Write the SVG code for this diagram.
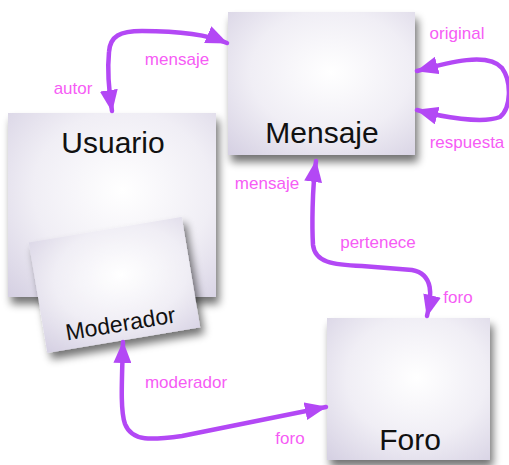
<svg xmlns="http://www.w3.org/2000/svg" width="509" height="465" viewBox="0 0 509 465">
<style>
.card{fill:url(#paper);filter:url(#shadow);}
.title{font-family:"Liberation Sans",Arial,sans-serif;font-size:30px;fill:#111;text-anchor:middle;}
.lbl{font-family:"Liberation Sans",Arial,sans-serif;font-size:17px;fill:#f65cf5;text-anchor:middle;}
.conn{fill:none;stroke:#b348f5;stroke-width:4.5;stroke-linecap:round;marker-start:url(#ah);marker-end:url(#ah);}
</style>
<defs>
<radialGradient id="paper" cx="0.55" cy="0.42" r="0.78">
<stop offset="0" stop-color="#ffffff"/>
<stop offset="0.55" stop-color="#f0eef5"/>
<stop offset="1" stop-color="#d6d1e3"/>
</radialGradient>
<filter id="shadow" x="-20%" y="-20%" width="150%" height="150%">
<feGaussianBlur in="SourceAlpha" stdDeviation="4.5"/>
<feOffset dx="3" dy="7" result="b"/>
<feComponentTransfer><feFuncA type="linear" slope="0.55"/></feComponentTransfer>
<feMerge><feMergeNode/><feMergeNode in="SourceGraphic"/></feMerge>
</filter>
<marker id="ah" viewBox="0 0 22 18" refX="21" refY="9" markerWidth="22" markerHeight="18" markerUnits="userSpaceOnUse" orient="auto-start-reverse">
<path d="M0 0 L22 9 L0 18 Z" fill="#b348f5"/>
</marker>
</defs>
<g id="usuario">
<rect class="card" x="8" y="113" width="208" height="184"/>
<text class="title" x="113" y="153">Usuario</text>
</g>
<g id="moderador">
<g transform="translate(114 285) rotate(-9.5)">
<rect class="card" x="-77" y="-56" width="155" height="112"/>
<text class="title" x="0" y="47" style="font-size:23px">Moderador</text>
</g>
</g>
<g id="mensaje">
<rect class="card" x="228" y="12" width="187" height="143"/>
<text class="title" x="322" y="143">Mensaje</text>
</g>
<g id="foro">
<rect class="card" x="327" y="318" width="163" height="142"/>
<text class="title" x="410" y="450">Foro</text>
</g>
<g id="connectors">
<path class="conn" d="M112 111 C108 85 108 62 109 52 C110 36 120 31 142 31 C172 31 204 33 227 43"/>
<path class="conn" d="M417 71 C450 62 488 52 502 68 C512 82 511 108 500 117 C482 124 442 117 417 110"/>
<path class="conn" d="M316 161 C312 190 312 228 313 245 C315 262 332 265 362 266 L412 270 C434 274 432 296 427 316"/>
<path class="conn" d="M123 342 C122 380 120 410 125 424 C132 442 152 440 182 436 L326 407"/>
</g>
<g id="labels">
<text class="lbl" x="177" y="65">mensaje</text>
<text class="lbl" x="73" y="94">autor</text>
<text class="lbl" x="457" y="39">original</text>
<text class="lbl" x="467" y="148">respuesta</text>
<text class="lbl" x="267" y="189">mensaje</text>
<text class="lbl" x="378" y="248">pertenece</text>
<text class="lbl" x="458" y="303">foro</text>
<text class="lbl" x="186" y="388">moderador</text>
<text class="lbl" x="290" y="444">foro</text>
</g>
</svg>
